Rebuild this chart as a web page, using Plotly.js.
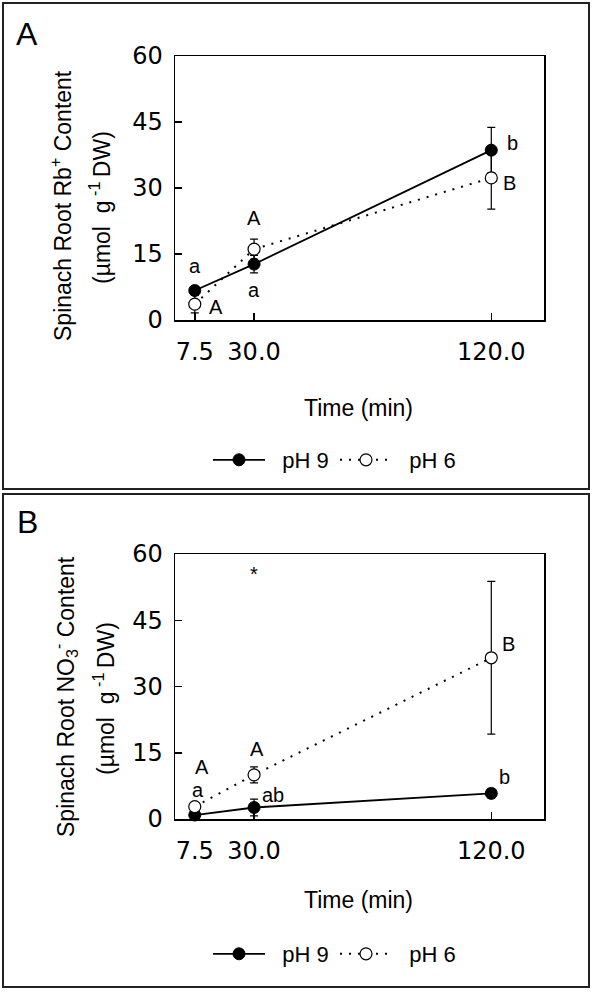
<!DOCTYPE html>
<html>
<head>
<meta charset="utf-8">
<script src="https://cdn.plot.ly/plotly-3.0.1.min.js"></script>
<style>html,body{margin:0;padding:0;background:#fff;}#chart{width:600px;height:992px;}</style>
</head>
<body>
<div id="chart"></div>
<script>
// ---- data ----
const timeMin = [7.5, 30, 120];
const timeTickVals = [7.5, 30, 120];
const timeTickText = ['7.5', '30.0', '120.0'];
const yTickVals = [0, 15, 30, 45, 60];

// Panel A: Rb+ content
const rbPH9 = [6.7, 12.7, 38.6];
const rbPH9Err = [0.8, 2.0, 5.2];
const rbPH6 = [3.6, 16.1, 32.3];
const rbPH6Err = [2.0, 2.3, 7.1];

// Panel B: NO3- content
const no3PH9 = [0.9, 2.6, 5.8];
const no3PH9Err = [0.5, 1.9, 1.0];
const no3PH6 = [2.8, 10.0, 36.5];
const no3PH6Err = [0.8, 1.8, 17.3];

// significance letters
const lettersA = ['a', 'A', 'A', 'a', 'b', 'B'];
const lettersAX = [7.5, 15.5, 30, 30, 128, 127];
const lettersAY = [12.3, 3.0, 23.2, 6.8, 40.2, 31.1];
const lettersB = ['*', 'A', 'a', 'A', 'ab', 'B', 'b'];
const lettersBX = [30, 10.4, 8.8, 31, 37, 126.4, 125];
const lettersBY = [55.5, 11.8, 6.6, 15.8, 5.4, 39.7, 9.6];

const seriesNames = ['pH 9', 'pH 6'];

// ---- helpers ----
const W = 600, H = 992;
const px = p => p / W;
const py = p => 1 - p / H;
const TXT = 'Liberation Sans';
const TICK = 'DejaVu Sans';
const NB = '\u00a0\u00a0';

function solidTrace(y, err, xa, ya, lg) {
  return {
    x: timeMin, y: y, xaxis: xa, yaxis: ya, legend: lg,
    name: NB + seriesNames[0], type: 'scatter', mode: 'lines+markers',
    line: {color: 'black', width: 1.8},
    marker: {symbol: 'circle', size: 12, color: 'black', line: {color: 'black', width: 1}},
    error_y: {type: 'data', array: err, visible: true, color: 'black', thickness: 1.2, width: 4},
    hoverinfo: 'skip', cliponaxis: false
  };
}
function dotTrace(y, err, xa, ya, lg) {
  return {
    x: timeMin, y: y, xaxis: xa, yaxis: ya, legend: lg,
    name: NB + seriesNames[1], type: 'scatter', mode: 'lines+markers',
    line: {color: 'black', width: 2, dash: '2px,7px'},
    marker: {symbol: 'circle', size: 12, color: 'white', line: {color: 'black', width: 1.2}},
    error_y: {type: 'data', array: err, visible: true, color: 'black', thickness: 1.2, width: 4},
    hoverinfo: 'skip', cliponaxis: false
  };
}

const data = [
  solidTrace(rbPH9, rbPH9Err, 'x', 'y', 'legend'),
  dotTrace(rbPH6, rbPH6Err, 'x', 'y', 'legend2'),
  solidTrace(no3PH9, no3PH9Err, 'x2', 'y2', 'legend3'),
  dotTrace(no3PH6, no3PH6Err, 'x2', 'y2', 'legend4')
];

const xBase = {
  range: [0, 140], tickvals: timeTickVals, ticktext: timeTickText,
  showline: true, linecolor: 'black', linewidth: 1.5, mirror: true,
  ticks: 'inside', ticklen: 7, tickwidth: 1.5, tickcolor: 'black',
  showgrid: false, zeroline: false, ticklabelstandoff: 10,
  tickfont: {family: TICK, size: 24, color: 'black'}, fixedrange: true
};
const yBase = {
  range: [0, 60], tickvals: yTickVals,
  showline: true, linecolor: 'black', linewidth: 1.5, mirror: true,
  ticks: 'inside', ticklen: 7, tickwidth: 1.5, tickcolor: 'black',
  showgrid: false, zeroline: false, ticklabelstandoff: 6,
  tickfont: {family: TICK, size: 24, color: 'black'}, fixedrange: true
};

const annotations = [];
function ann(text, x, y, opts) {
  annotations.push(Object.assign({text: text, x: x, y: y, showarrow: false,
    xanchor: 'center', yanchor: 'middle',
    font: {family: TXT, size: 22, color: 'black'}}, opts));
}
const paperRef = {xref: 'paper', yref: 'paper'};
const titleFont = {family: TXT, size: 23, color: 'black'};
// panel labels
ann('A', px(27), py(34), Object.assign({font: {family: TXT, size: 32, color: 'black'}}, paperRef));
ann('B', px(27), py(522), Object.assign({font: {family: TXT, size: 32, color: 'black'}}, paperRef));
// y titles
ann('Spinach Root Rb<sup>+</sup> Content', px(61), py(206), Object.assign({textangle: -90, font: titleFont}, paperRef));
ann('(µmol  g<sup> -1 </sup>DW)', px(100), py(208), Object.assign({textangle: -90, font: titleFont}, paperRef));
ann('Spinach Root NO<sub>3</sub><sup>-</sup> Content', px(65), py(697), Object.assign({textangle: -90, font: titleFont}, paperRef));
ann('(µmol  g<sup> -1 </sup>DW)', px(104), py(699), Object.assign({textangle: -90, font: titleFont}, paperRef));
// x titles
ann('Time (min)', px(358), py(408), Object.assign({font: {family: TXT, size: 23, color: 'black'}}, paperRef));
ann('Time (min)', px(358), py(900), Object.assign({font: {family: TXT, size: 23, color: 'black'}}, paperRef));
// letters
lettersA.forEach((t, i) => ann(t, lettersAX[i], lettersAY[i], {xref: 'x', yref: 'y', font: {family: TXT, size: 20, color: 'black'}}));
lettersB.forEach((t, i) => ann(t, lettersBX[i], lettersBY[i], {xref: 'x2', yref: 'y2', font: {family: TXT, size: 20, color: 'black'}}));

function legendAt(xLeft, yMid) {
  return {orientation: 'h', x: px(xLeft), xanchor: 'left', y: py(yMid), yanchor: 'middle',
    font: {family: TXT, size: 22, color: 'black'}, itemwidth: 52,
    bgcolor: 'rgba(0,0,0,0)', borderwidth: 0};
}

const frame = {color: '#222', width: 2};
const layout = {
  width: W, height: H,
  margin: {l: 0, r: 0, t: 0, b: 0},
  paper_bgcolor: 'white', plot_bgcolor: 'white',
  font: {family: TXT, color: 'black'},
  xaxis: Object.assign({}, xBase, {domain: [px(175), px(544)], anchor: 'y'}),
  yaxis: Object.assign({}, yBase, {domain: [py(320), py(56)], anchor: 'x'}),
  xaxis2: Object.assign({}, xBase, {domain: [px(175), px(544)], anchor: 'y2'}),
  yaxis2: Object.assign({}, yBase, {domain: [py(819), py(554)], anchor: 'x2'}),
  legend: legendAt(208, 460),
  legend2: legendAt(335, 460),
  legend3: legendAt(208, 954),
  legend4: legendAt(335, 954),
  showlegend: true,
  annotations: annotations,
  shapes: [
    {type: 'rect', xref: 'paper', yref: 'paper', x0: px(3), x1: px(589), y0: py(489), y1: py(3), line: frame},
    {type: 'rect', xref: 'paper', yref: 'paper', x0: px(3), x1: px(589), y0: py(987), y1: py(494), line: frame}
  ]
};

Plotly.newPlot('chart', data, layout, {displayModeBar: false, staticPlot: true});
</script>
</body>
</html>
